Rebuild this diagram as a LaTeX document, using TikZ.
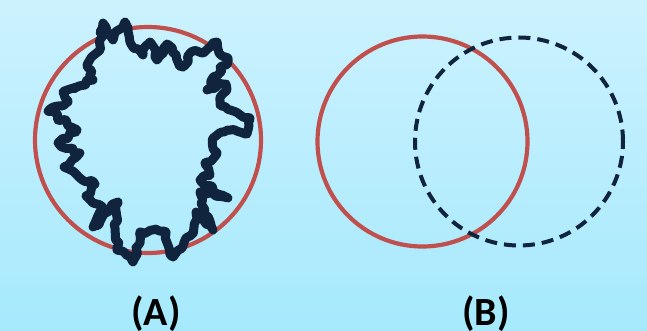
\documentclass[tikz,border=0pt]{standalone}
\usepackage{fontspec}
\setmainfont{Carlito}
\usetikzlibrary{decorations.pathmorphing}
\definecolor{ringred}{RGB}{192,80,77}
\definecolor{inkblue}{RGB}{16,36,62}
\definecolor{skytop}{RGB}{204,242,254}
\definecolor{skybot}{RGB}{166,233,253}
\tikzset{
  ring/.style={circle, draw=ringred, line width=4.2pt, inner sep=0pt},
  dashring/.style={circle, draw=inkblue, line width=4pt, inner sep=0pt,
                   dash pattern=on 12pt off 7pt},
  rough/.style={draw=inkblue, line width=9pt, line join=round, line cap=round,
                rounded corners=1pt, decorate,
                decoration={random steps, segment length=4.5pt, amplitude=2.8pt}},
  caption/.style={font=\bfseries\fontsize{40}{40}\selectfont, anchor=base, inner sep=0pt}
}
\begin{document}
\begin{tikzpicture}[x=1pt, y=-1pt]
\useasboundingbox (0,0) rectangle (647,331);
\shade[top color=skytop, bottom color=skybot] (0,0) rectangle (647,331);

% (A): reference circle with a rough outline around it
\node[ring, minimum size=226pt] (ringA) at (148,140) {};
\pgfmathsetseed{7}
\path[rough] plot coordinates {
 (103,23) (113,40) (125,22) (130,42) (143,55) (150,42) (157,60) (167,44)
 (177,60) (183,67) (190,53) (203,53) (217,42) (221,55) (228,58) (218,75)
 (207,90) (226,84) (220,105) (236,112) (250,118) (247,134) (228,130) (213,138)
 (217,153) (205,163) (210,175) (200,180) (228,198) (200,192) (204,214) (213,230)
 (196,212) (192,234) (182,248) (173,257) (166,232) (152,230) (140,232) (133,262)
 (124,252) (117,250) (115,228) (118,202) (93,227) (103,208) (86,196) (95,184)
 (64,167) (80,153) (58,143) (77,130) (48,111) (68,101) (63,92) (93,80)
 (87,66) (100,50) } -- cycle;

% (B): reference circle and its shifted dashed copy
\node[ring, minimum size=210pt] (ringB) at (422.5,141.5) {};
\node[dashring, minimum size=208pt] (dashB) at (519,141.5) {};

% captions
\node[caption] (capA) at (156,325) {(A)};
\node[caption] (capB) at (486,325) {(B)};
\end{tikzpicture}
\end{document}
